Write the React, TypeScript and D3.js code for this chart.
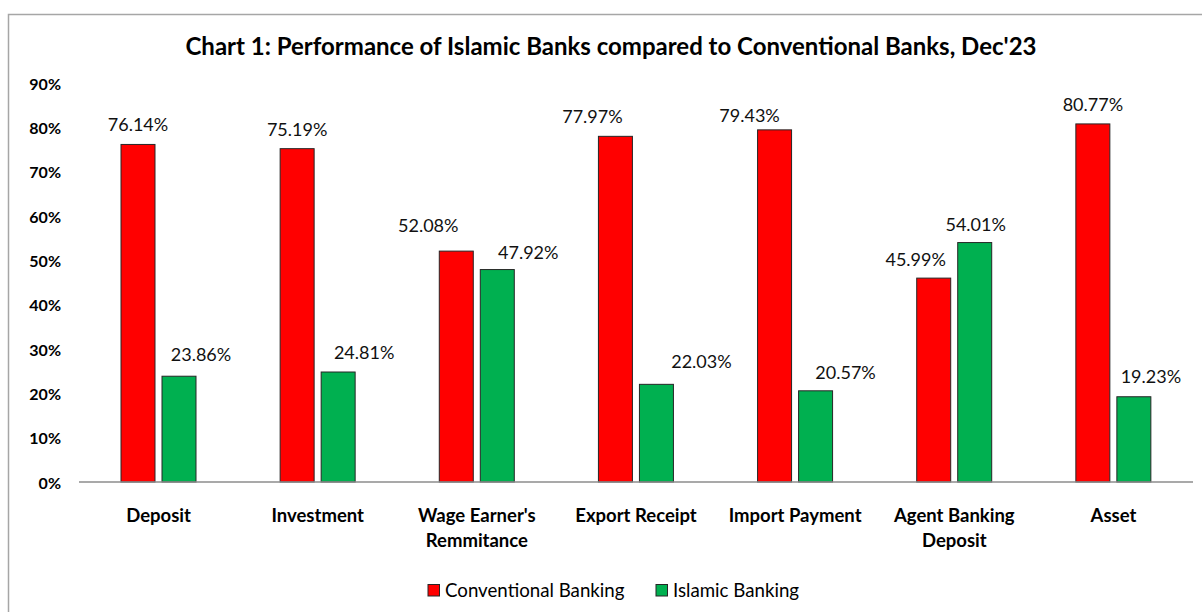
import React from "react";
import * as d3 from "d3";

const categories: string[][] = [
  ["Deposit"],
  ["Investment"],
  ["Wage Earner's", "Remmitance"],
  ["Export Receipt"],
  ["Import Payment"],
  ["Agent Banking", "Deposit"],
  ["Asset"],
];
const seriesNames = ["Conventional Banking", "Islamic Banking"];
const conventional = [76.14, 75.19, 52.08, 77.97, 79.43, 45.99, 80.77];
const islamic = [23.86, 24.81, 47.92, 22.03, 20.57, 54.01, 19.23];
const yTicks = [0, 10, 20, 30, 40, 50, 60, 70, 80, 90];
const titleText = "Chart 1: Performance of Islamic Banks compared to Conventional Banks, Dec'23";

// label position nudges (layout only), [dx, dy] relative to default spot above bar
const labelNudge: number[][][] = [
  [[0, 0], [22, -2]],
  [[0, 0], [26, 0]],
  [[-28, -6], [31, 2]],
  [[-23, 0], [45, -3]],
  [[-25, 5], [30, 1]],
  [[-18, 1], [1, 1]],
  [[0, 0], [17, -1]],
];

const colors = ["#FF0000", "#00B050"];
const FONT = "Lato, 'Open Sans', sans-serif";

export default function App() {
  const W = 1202, H = 612;
  const left = 79, right = 1193, base = 482, top90 = 83;
  const x0 = d3.scaleBand<number>().domain(d3.range(categories.length)).range([left, right]).padding(0);
  const x1 = d3.scaleBand<number>().domain([0, 1]).range([42, 117]).paddingInner(0.171).paddingOuter(0);
  const y = d3.scaleLinear().domain([0, 90]).range([base, top90]);
  const series = [conventional, islamic];

  return (
    <svg width={W} height={H} style={{ position: "absolute", left: 0, top: 0, background: "#fff" }} fontFamily={FONT}>
      <rect x={8.5} y={14.5} width={1400} height={800} fill="#fff" stroke="#a6a6a6" strokeWidth={1.5} />
      <text x={611} y={45} textAnchor="middle" dominantBaseline="central" fontWeight="bold" fontSize={24} fill="#000">
        {titleText}
      </text>
      {yTicks.map((t) => (
        <text key={t} x={61} y={y(t)} textAnchor="end" dominantBaseline="central" fontWeight="bold" fontSize={16} fill="#000">
          {t}%
        </text>
      ))}
      {categories.map((cat, i) =>
        series.map((vals, s) => {
          const bx = (x0(i) as number) + (x1(s) as number);
          const bw = x1.bandwidth();
          const v = vals[i];
          const [dx, dy] = labelNudge[i][s];
          return (
            <g key={`${i}-${s}`}>
              <rect x={bx} y={y(v)} width={bw} height={base - y(v)} fill={colors[s]} stroke="#262626" strokeWidth={1} />
              <text x={bx + bw / 2 + dx} y={y(v) - 20 + dy} textAnchor="middle" dominantBaseline="central" fontSize={18} fill="#111">
                {v.toFixed(2)}%
              </text>
            </g>
          );
        })
      )}
      <line x1={left} x2={right} y1={base} y2={base} stroke="#8c8c8c" strokeWidth={1.5} />
      {categories.map((cat, i) =>
        cat.map((line, j) => (
          <text key={`c${i}-${j}`} x={(x0(i) as number) + x0.bandwidth() / 2} y={515 + j * 25} textAnchor="middle" dominantBaseline="central" fontWeight="bold" fontSize={18.5} fill="#000">
            {line}
          </text>
        ))
      )}
      {seriesNames.map((name, s) => {
        const lx = [428, 656][s];
        return (
          <g key={name}>
            <rect x={lx} y={584.5} width={11.5} height={11.5} fill={colors[s]} stroke="#262626" strokeWidth={1} />
            <text x={lx + 17} y={590} dominantBaseline="central" fontSize={18.7} fill="#000">
              {name}
            </text>
          </g>
        );
      })}
    </svg>
  );
}
